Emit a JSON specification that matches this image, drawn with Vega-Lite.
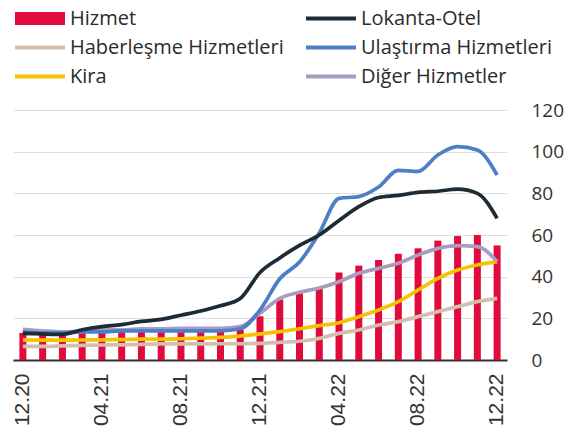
{
  "$schema": "https://vega.github.io/schema/vega-lite/v6.json",
  "width": 494,
  "height": 250,
  "autosize": {"type": "none"},
  "padding": {"left": 13, "top": 110, "right": 62, "bottom": 79},
  "background": "white",
  "datasets": {
    "grid": [{"month": "12.20"}, {"month": "04.21"}, {"month": "08.21"}, {"month": "12.21"}, {"month": "04.22"}, {"month": "08.22"}, {"month": "12.22"}],
    "main": [
      {"month": "12.20", "series": "Hizmet", "value": 13},
      {"month": "01.21", "series": "Hizmet", "value": 13},
      {"month": "02.21", "series": "Hizmet", "value": 13},
      {"month": "03.21", "series": "Hizmet", "value": 13},
      {"month": "04.21", "series": "Hizmet", "value": 13.5},
      {"month": "05.21", "series": "Hizmet", "value": 13.5},
      {"month": "06.21", "series": "Hizmet", "value": 13.5},
      {"month": "07.21", "series": "Hizmet", "value": 13.6},
      {"month": "08.21", "series": "Hizmet", "value": 13.6},
      {"month": "09.21", "series": "Hizmet", "value": 13.8},
      {"month": "10.21", "series": "Hizmet", "value": 14},
      {"month": "11.21", "series": "Hizmet", "value": 14.4},
      {"month": "12.21", "series": "Hizmet", "value": 21},
      {"month": "01.22", "series": "Hizmet", "value": 29},
      {"month": "02.22", "series": "Hizmet", "value": 32},
      {"month": "03.22", "series": "Hizmet", "value": 34.5},
      {"month": "04.22", "series": "Hizmet", "value": 42},
      {"month": "05.22", "series": "Hizmet", "value": 45.3},
      {"month": "06.22", "series": "Hizmet", "value": 48},
      {"month": "07.22", "series": "Hizmet", "value": 51},
      {"month": "08.22", "series": "Hizmet", "value": 53.6},
      {"month": "09.22", "series": "Hizmet", "value": 57.3},
      {"month": "10.22", "series": "Hizmet", "value": 59.5},
      {"month": "11.22", "series": "Hizmet", "value": 60},
      {"month": "12.22", "series": "Hizmet", "value": 55},

      {"month": "12.20", "series": "Haberleşme Hizmetleri", "value": 6.5},
      {"month": "01.21", "series": "Haberleşme Hizmetleri", "value": 6.5},
      {"month": "02.21", "series": "Haberleşme Hizmetleri", "value": 6.8},
      {"month": "03.21", "series": "Haberleşme Hizmetleri", "value": 7},
      {"month": "04.21", "series": "Haberleşme Hizmetleri", "value": 7.2},
      {"month": "05.21", "series": "Haberleşme Hizmetleri", "value": 7.3},
      {"month": "06.21", "series": "Haberleşme Hizmetleri", "value": 7.5},
      {"month": "07.21", "series": "Haberleşme Hizmetleri", "value": 7.7},
      {"month": "08.21", "series": "Haberleşme Hizmetleri", "value": 7.7},
      {"month": "09.21", "series": "Haberleşme Hizmetleri", "value": 7.7},
      {"month": "10.21", "series": "Haberleşme Hizmetleri", "value": 7.8},
      {"month": "11.21", "series": "Haberleşme Hizmetleri", "value": 7.8},
      {"month": "12.21", "series": "Haberleşme Hizmetleri", "value": 8},
      {"month": "01.22", "series": "Haberleşme Hizmetleri", "value": 8.5},
      {"month": "02.22", "series": "Haberleşme Hizmetleri", "value": 9},
      {"month": "03.22", "series": "Haberleşme Hizmetleri", "value": 10.4},
      {"month": "04.22", "series": "Haberleşme Hizmetleri", "value": 12.8},
      {"month": "05.22", "series": "Haberleşme Hizmetleri", "value": 14.4},
      {"month": "06.22", "series": "Haberleşme Hizmetleri", "value": 16.8},
      {"month": "07.22", "series": "Haberleşme Hizmetleri", "value": 18.4},
      {"month": "08.22", "series": "Haberleşme Hizmetleri", "value": 20.8},
      {"month": "09.22", "series": "Haberleşme Hizmetleri", "value": 23.2},
      {"month": "10.22", "series": "Haberleşme Hizmetleri", "value": 25.6},
      {"month": "11.22", "series": "Haberleşme Hizmetleri", "value": 28},
      {"month": "12.22", "series": "Haberleşme Hizmetleri", "value": 29.6},

      {"month": "12.20", "series": "Kira", "value": 9.6},
      {"month": "01.21", "series": "Kira", "value": 9.5},
      {"month": "02.21", "series": "Kira", "value": 9.5},
      {"month": "03.21", "series": "Kira", "value": 9.6},
      {"month": "04.21", "series": "Kira", "value": 9.7},
      {"month": "05.21", "series": "Kira", "value": 9.8},
      {"month": "06.21", "series": "Kira", "value": 10},
      {"month": "07.21", "series": "Kira", "value": 10},
      {"month": "08.21", "series": "Kira", "value": 10.2},
      {"month": "09.21", "series": "Kira", "value": 10.5},
      {"month": "10.21", "series": "Kira", "value": 10.9},
      {"month": "11.21", "series": "Kira", "value": 11.5},
      {"month": "12.21", "series": "Kira", "value": 12.5},
      {"month": "01.22", "series": "Kira", "value": 13.6},
      {"month": "02.22", "series": "Kira", "value": 15},
      {"month": "03.22", "series": "Kira", "value": 16.5},
      {"month": "04.22", "series": "Kira", "value": 17.9},
      {"month": "05.22", "series": "Kira", "value": 20.8},
      {"month": "06.22", "series": "Kira", "value": 24},
      {"month": "07.22", "series": "Kira", "value": 28},
      {"month": "08.22", "series": "Kira", "value": 33.6},
      {"month": "09.22", "series": "Kira", "value": 39.2},
      {"month": "10.22", "series": "Kira", "value": 43.2},
      {"month": "11.22", "series": "Kira", "value": 45.6},
      {"month": "12.22", "series": "Kira", "value": 47.2},

      {"month": "12.20", "series": "Diğer Hizmetler", "value": 14.7},
      {"month": "01.21", "series": "Diğer Hizmetler", "value": 14},
      {"month": "02.21", "series": "Diğer Hizmetler", "value": 13.5},
      {"month": "03.21", "series": "Diğer Hizmetler", "value": 14},
      {"month": "04.21", "series": "Diğer Hizmetler", "value": 14.5},
      {"month": "05.21", "series": "Diğer Hizmetler", "value": 14.5},
      {"month": "06.21", "series": "Diğer Hizmetler", "value": 15},
      {"month": "07.21", "series": "Diğer Hizmetler", "value": 15},
      {"month": "08.21", "series": "Diğer Hizmetler", "value": 15.2},
      {"month": "09.21", "series": "Diğer Hizmetler", "value": 15.2},
      {"month": "10.21", "series": "Diğer Hizmetler", "value": 15.2},
      {"month": "11.21", "series": "Diğer Hizmetler", "value": 16},
      {"month": "12.21", "series": "Diğer Hizmetler", "value": 22.4},
      {"month": "01.22", "series": "Diğer Hizmetler", "value": 29.6},
      {"month": "02.22", "series": "Diğer Hizmetler", "value": 32.5},
      {"month": "03.22", "series": "Diğer Hizmetler", "value": 34.6},
      {"month": "04.22", "series": "Diğer Hizmetler", "value": 37.6},
      {"month": "05.22", "series": "Diğer Hizmetler", "value": 41.6},
      {"month": "06.22", "series": "Diğer Hizmetler", "value": 44},
      {"month": "07.22", "series": "Diğer Hizmetler", "value": 46.4},
      {"month": "08.22", "series": "Diğer Hizmetler", "value": 50.4},
      {"month": "09.22", "series": "Diğer Hizmetler", "value": 53.6},
      {"month": "10.22", "series": "Diğer Hizmetler", "value": 54.9},
      {"month": "11.22", "series": "Diğer Hizmetler", "value": 54.4},
      {"month": "12.22", "series": "Diğer Hizmetler", "value": 47.2},

      {"month": "12.20", "series": "Ulaştırma Hizmetleri", "value": 13.5},
      {"month": "01.21", "series": "Ulaştırma Hizmetleri", "value": 13},
      {"month": "02.21", "series": "Ulaştırma Hizmetleri", "value": 13},
      {"month": "03.21", "series": "Ulaştırma Hizmetleri", "value": 13.5},
      {"month": "04.21", "series": "Ulaştırma Hizmetleri", "value": 13.5},
      {"month": "05.21", "series": "Ulaştırma Hizmetleri", "value": 14},
      {"month": "06.21", "series": "Ulaştırma Hizmetleri", "value": 14},
      {"month": "07.21", "series": "Ulaştırma Hizmetleri", "value": 14},
      {"month": "08.21", "series": "Ulaştırma Hizmetleri", "value": 14},
      {"month": "09.21", "series": "Ulaştırma Hizmetleri", "value": 14},
      {"month": "10.21", "series": "Ulaştırma Hizmetleri", "value": 14},
      {"month": "11.21", "series": "Ulaştırma Hizmetleri", "value": 15},
      {"month": "12.21", "series": "Ulaştırma Hizmetleri", "value": 24},
      {"month": "01.22", "series": "Ulaştırma Hizmetleri", "value": 39},
      {"month": "02.22", "series": "Ulaştırma Hizmetleri", "value": 47},
      {"month": "03.22", "series": "Ulaştırma Hizmetleri", "value": 61},
      {"month": "04.22", "series": "Ulaştırma Hizmetleri", "value": 77.6},
      {"month": "05.22", "series": "Ulaştırma Hizmetleri", "value": 78.4},
      {"month": "06.22", "series": "Ulaştırma Hizmetleri", "value": 83},
      {"month": "07.22", "series": "Ulaştırma Hizmetleri", "value": 91},
      {"month": "08.22", "series": "Ulaştırma Hizmetleri", "value": 90.5},
      {"month": "09.22", "series": "Ulaştırma Hizmetleri", "value": 98.4},
      {"month": "10.22", "series": "Ulaştırma Hizmetleri", "value": 102.4},
      {"month": "11.22", "series": "Ulaştırma Hizmetleri", "value": 100.8},
      {"month": "12.22", "series": "Ulaştırma Hizmetleri", "value": 88.8},

      {"month": "12.20", "series": "Lokanta-Otel", "value": 12.8},
      {"month": "01.21", "series": "Lokanta-Otel", "value": 12.5},
      {"month": "02.21", "series": "Lokanta-Otel", "value": 12.3},
      {"month": "03.21", "series": "Lokanta-Otel", "value": 14.5},
      {"month": "04.21", "series": "Lokanta-Otel", "value": 16},
      {"month": "05.21", "series": "Lokanta-Otel", "value": 17},
      {"month": "06.21", "series": "Lokanta-Otel", "value": 18.5},
      {"month": "07.21", "series": "Lokanta-Otel", "value": 19.5},
      {"month": "08.21", "series": "Lokanta-Otel", "value": 21.5},
      {"month": "09.21", "series": "Lokanta-Otel", "value": 23.5},
      {"month": "10.21", "series": "Lokanta-Otel", "value": 26},
      {"month": "11.21", "series": "Lokanta-Otel", "value": 29.5},
      {"month": "12.21", "series": "Lokanta-Otel", "value": 42},
      {"month": "01.22", "series": "Lokanta-Otel", "value": 49},
      {"month": "02.22", "series": "Lokanta-Otel", "value": 55},
      {"month": "03.22", "series": "Lokanta-Otel", "value": 60},
      {"month": "04.22", "series": "Lokanta-Otel", "value": 67},
      {"month": "05.22", "series": "Lokanta-Otel", "value": 73.6},
      {"month": "06.22", "series": "Lokanta-Otel", "value": 78},
      {"month": "07.22", "series": "Lokanta-Otel", "value": 79},
      {"month": "08.22", "series": "Lokanta-Otel", "value": 80.5},
      {"month": "09.22", "series": "Lokanta-Otel", "value": 81},
      {"month": "10.22", "series": "Lokanta-Otel", "value": 82},
      {"month": "11.22", "series": "Lokanta-Otel", "value": 80},
      {"month": "12.22", "series": "Lokanta-Otel", "value": 68}
    ]
  },
  "layer": [
    {
      "data": {"name": "grid"},
      "mark": {"type": "rule", "color": "#dedede", "strokeWidth": 1},
      "encoding": {
        "x": {"field": "month", "type": "ordinal", "bandPosition": 0}
      }
    },
    {
      "data": {"name": "main"},
      "transform": [{"filter": "datum.series === 'Hizmet'"}],
      "mark": {"type": "bar", "width": 7},
      "encoding": {
        "x": {"field": "month", "type": "ordinal"},
        "y": {"field": "value", "type": "quantitative"},
        "color": {"field": "series", "type": "nominal"}
      }
    },
    {
      "data": {"name": "main"},
      "transform": [{"filter": "datum.series !== 'Hizmet'"}],
      "mark": {"type": "line", "strokeWidth": 3.7, "interpolate": "monotone"},
      "encoding": {
        "x": {"field": "month", "type": "ordinal"},
        "y": {"field": "value", "type": "quantitative"},
        "color": {"field": "series", "type": "nominal"}
      }
    }
  ],
  "encoding": {
    "x": {
      "field": "month",
      "type": "ordinal",
      "scale": {
        "domain": ["12.20","01.21","02.21","03.21","04.21","05.21","06.21","07.21","08.21","09.21","10.21","11.21","12.21","01.22","02.22","03.22","04.22","05.22","06.22","07.22","08.22","09.22","10.22","11.22","12.22"],
        "paddingInner": 0, "paddingOuter": 0
      },
      "axis": {
        "title": null,
        "labelExpr": "indexof(['12.20','04.21','08.21','12.21','04.22','08.22','12.22'], datum.value) >= 0 ? datum.value : ''",
        "labelAngle": -90,
        "labelFont": "Liberation Sans",
        "labelFontSize": 21,
        "labelColor": "#333333",
        "labelPadding": 13,
        "labelOverlap": false,
        "labelFlush": false,
        "labelBound": false,
        "ticks": false,
        "grid": false,
        "domainColor": "#333333",
        "domainWidth": 2
      }
    },
    "y": {
      "field": "value",
      "type": "quantitative",
      "scale": {"domain": [0, 120], "nice": false},
      "axis": {
        "title": null,
        "orient": "right",
        "values": [0, 20, 40, 60, 80, 100, 120],
        "labelFont": "Open Sans",
        "labelFontSize": 19,
        "labelColor": "#333333",
        "labelPadding": 24,
        "ticks": false,
        "domain": false,
        "grid": true,
        "gridColor": "#dedede",
        "gridWidth": 1
      }
    },
    "color": {
      "field": "series",
      "type": "nominal",
      "scale": {
        "domain": ["Hizmet", "Lokanta-Otel", "Haberleşme Hizmetleri", "Ulaştırma Hizmetleri", "Kira", "Diğer Hizmetler"],
        "range": ["#e10a3c", "#1d2b35", "#d2bfae", "#4d7fc6", "#f8c200", "#a89cc0"]
      },
      "legend": {
        "title": null,
        "orient": "none",
        "legendX": 2,
        "legendY": -106,
        "direction": "horizontal",
        "columns": 2,
        "columnPadding": 22,
        "rowPadding": 0,
        "padding": 0,
        "clipHeight": 29,
        "symbolType": "M-1,-0.08H1V0.08H-1Z",
        "symbolSize": 2500,
        "labelOffset": 5,
        "labelFont": "Open Sans",
        "labelFontSize": 20,
        "labelColor": "#2b2b2b",
        "labelLimit": 400,
        "encode": {
          "symbols": {
            "update": {
              "shape": {"signal": "datum.value === 'Hizmet' ? 'M-1,-0.26H1V0.26H-1Z' : 'M-1,-0.08H1V0.08H-1Z'"},
              "fill": {"scale": "color", "field": "value"},
              "stroke": {"value": "transparent"},
              "strokeWidth": {"value": 0},
              "opacity": {"value": 1}
            }
          }
        }
      }
    }
  },
  "config": {
    "view": {"stroke": null}
  }
}
